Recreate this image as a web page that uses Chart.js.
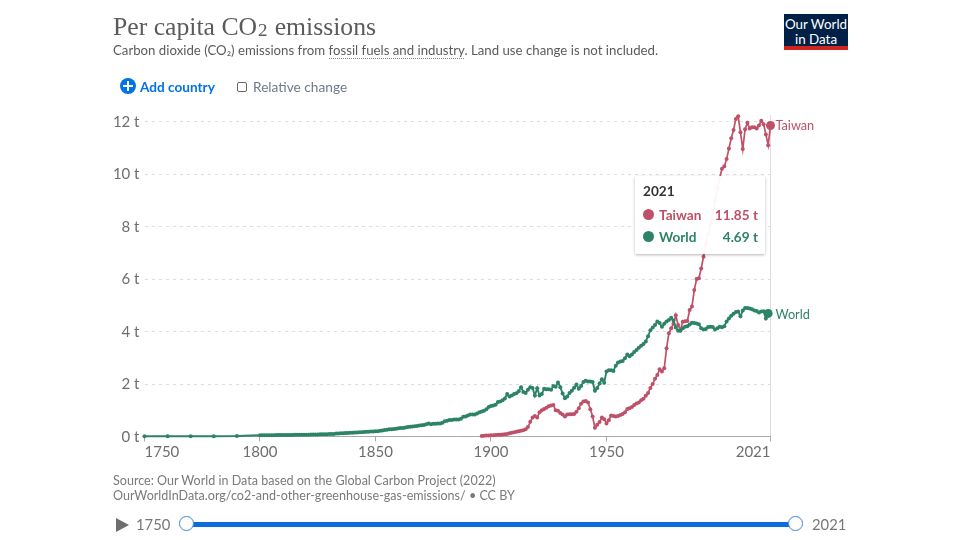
<!DOCTYPE html>
<html><head><meta charset="utf-8">
<script src="https://cdn.jsdelivr.net/npm/chart.js@4/dist/chart.umd.min.js"></script>
<style>
html,body{margin:0;padding:0;background:#fff;width:960px;height:540px;overflow:hidden;font-family:Lato,sans-serif}
#wrap{position:relative;width:960px;height:540px}
canvas{position:absolute;left:0;top:0}
.t{position:absolute;white-space:nowrap}
#title{left:113px;top:11px;font:25.7px/32px "Liberation Serif",serif;color:#5b5b5b}
#title span{font-size:1.25em;line-height:0;position:relative;top:-5px}
#sub{left:113px;top:41px;font:13.23px/18px Lato;color:#5b5b5b}
#sub span{border-bottom:1px dotted #888}
#logo{position:absolute;left:784px;top:14px;width:64px;height:36px;background:#002147;border-bottom:4px solid #ce261e;box-sizing:border-box;color:#fff;text-align:center;font:13.4px/14.5px Lato;padding-top:3px;white-space:nowrap}
#add{left:140px;top:78px;font:bold 13.6px/18px Lato;color:#0073e6}
#plus{position:absolute;left:120px;top:78px;width:16px;height:16px;border-radius:50%;background:#0073e6;color:#fff}
#plus i{position:absolute;background:#fff}
#chk{position:absolute;left:237px;top:82px;width:8px;height:8px;border:1.5px solid #666;border-radius:2px}
#rel{left:253px;top:78px;font:13.7px/18px Lato;color:#6e7b8e}
#tip{position:absolute;left:635px;top:176px;width:130px;height:78px;background:rgba(255,255,255,.95);box-shadow:0 1px 3px rgba(0,0,0,.3);border-radius:2px;font:13.6px/18px Lato}
#tip .t{font-weight:bold}
#tip b.d{position:absolute;width:11px;height:11px;border-radius:50%}
#src{left:113px;top:474px;font:12.55px/14.5px Lato;color:#7a7a7a}
#play{position:absolute;left:116px;top:518px;width:0;height:0;border-left:13px solid #6e6e6e;border-top:7px solid transparent;border-bottom:7px solid transparent}
.yr{font:14.8px/18px Lato;color:#777}
#track{position:absolute;left:186px;top:522px;width:610px;height:5px;background:#0a6fdc}
.h{position:absolute;top:516px;width:13px;height:13px;border:1.5px solid #4a90d9;border-radius:50%;background:#fff;box-shadow:0 0 1px rgba(0,0,0,.2)}
</style></head><body>
<div id="wrap">
<canvas id="c" width="960" height="540"></canvas>
<div class="t" id="title">Per capita CO<span>₂</span> emissions</div>
<div class="t" id="sub">Carbon dioxide (CO₂) emissions from <span>fossil fuels and industry</span>. Land use change is not included.</div>
<div id="logo">Our World<br>in Data</div>
<div id="plus"><i style="left:3px;top:7px;width:10px;height:2px"></i><i style="left:7px;top:3px;width:2px;height:10px"></i></div>
<div class="t" id="add">Add country</div>
<div id="chk"></div>
<div class="t" id="rel">Relative change</div>
<div id="tip">
 <div class="t" id="tipYear" style="left:8px;top:6px;color:#333"></div>
 <b class="d" style="left:8px;top:33px;background:#be5168"></b>
 <div class="t" id="tipA" style="left:24px;top:30px;color:#be5168"></div>
 <div class="t" id="tipAV" style="right:7px;top:30px;color:#be5168"></div>
 <b class="d" style="left:8px;top:55px;background:#2c8465"></b>
 <div class="t" id="tipB" style="left:24px;top:52px;color:#2c8465"></div>
 <div class="t" id="tipBV" style="right:7px;top:52px;color:#2c8465"></div>
</div>
<div class="t" id="src">Source: Our World in Data based on the Global Carbon Project (2022)<br>OurWorldInData.org/co2-and-other-greenhouse-gas-emissions/ • CC BY</div>
<div id="play"></div>
<div class="t yr" style="left:136px;top:515px">1750</div>
<div id="track"></div>
<div class="h" style="left:179px"></div>
<div class="h" style="left:788px"></div>
<div class="t yr" style="left:812px;top:515px">2021</div>
</div>
<script>
const xTicks = [1750, 1800, 1850, 1900, 1950, 2021];
const yTicks = [0, 2, 4, 6, 8, 10, 12];
const seriesNames = ["World", "Taiwan"];
const worldSparseYears = [1750, 1760, 1770, 1780, 1790];
const worldSparseValues = [0.01, 0.01, 0.01, 0.01, 0.02];
const worldAnnualStart = 1800;
const worldAnnualValues = [
.05,.05,.05,.05,.05,.05,.05,.06,.06,.06,
.06,.06,.06,.06,.06,.07,.07,.07,.07,.07,
.07,.07,.08,.08,.08,.08,.09,.09,.09,.09,
.10,.10,.10,.11,.11,.12,.12,.13,.13,.14,
.14,.15,.15,.16,.16,.17,.18,.18,.19,.19,
.20,.20,.22,.23,.25,.26,.28,.28,.29,.30,
.31,.32,.32,.34,.36,.37,.38,.39,.40,.42,
.43,.44,.47,.50,.47,.49,.49,.50,.50,.52,
.58,.60,.63,.63,.65,.65,.65,.68,.75,.76,
.80,.84,.84,.84,.88,.92,.95,.98,1.04,1.12,
1.16,1.18,1.21,1.31,1.33,1.38,1.45,1.62,1.52,1.56,
1.62,1.65,1.72,1.88,1.70,1.66,1.78,1.88,1.85,1.56,
1.84,1.56,1.62,1.82,1.80,1.80,1.78,1.92,1.90,2.06,
1.88,1.64,1.46,1.52,1.66,1.74,1.86,1.98,1.82,1.92,
2.08,2.12,2.10,2.10,2.08,1.74,1.85,2.02,2.18,2.05,
2.48,2.52,2.52,2.50,2.70,2.82,2.86,2.88,2.98,3.12,
3.06,3.12,3.22,3.30,3.38,3.46,3.52,3.62,3.82,4.05,
4.15,4.25,4.38,4.32,4.18,4.30,4.38,4.44,4.52,4.42,
4.15,4.03,4.03,4.12,4.18,4.20,4.27,4.33,4.32,4.31,
4.28,4.12,4.08,4.10,4.17,4.18,4.17,4.08,4.12,4.18,
4.16,4.20,4.38,4.50,4.60,4.68,4.74,4.76,4.58,4.80,
4.90,4.90,4.88,4.85,4.80,4.78,4.72,4.76,4.77,4.50,
4.69];
const taiwanStart = 1896;
const taiwanValues = [
.02,.03,.04,.04,
.05,.05,.06,.07,.07,.08,.09,.10,.12,.14,
.16,.18,.20,.22,.24,.28,.36,.56,.72,.78,
.72,.92,1.00,1.05,1.10,1.15,1.18,1.20,1.00,.98,
.90,.84,.76,.84,.85,.85,.86,.94,1.08,1.25,
1.33,1.35,1.30,1.04,.76,.33,.45,.55,.72,.66,
.50,.62,.80,.78,.76,.78,.82,.86,.92,1.05,
1.08,1.12,1.20,1.26,1.30,1.38,1.44,1.55,1.66,1.85,
2.00,2.20,2.34,2.56,2.48,2.60,3.36,3.93,4.12,4.30,
4.62,4.25,4.05,4.37,4.39,4.40,4.82,4.95,5.58,6.00,
6.03,6.40,6.85,7.35,7.70,8.10,8.50,9.00,9.45,9.85,
10.20,10.30,10.57,10.97,11.36,11.68,12.10,12.20,11.59,10.95,
11.71,11.95,11.74,11.78,11.78,11.74,11.85,12.03,11.90,11.51,
11.10,11.85];
const tipYear = 2021, tipTaiwan = "11.85 t", tipWorld = "4.69 t";

document.getElementById('tipYear').textContent = tipYear;
document.getElementById('tipA').textContent = seriesNames[1];
document.getElementById('tipAV').textContent = tipTaiwan;
document.getElementById('tipB').textContent = seriesNames[0];
document.getElementById('tipBV').textContent = tipWorld;

const GREEN = '#2c8465', PINK = '#be5168';
const worldPts = worldSparseYears.map((x, i) => ({x, y: worldSparseValues[i]}))
  .concat(worldAnnualValues.map((y, i) => ({x: worldAnnualStart + i, y})));
const taiwanPts = taiwanValues.map((y, i) => ({x: taiwanStart + i, y}));
const radius = n => ctx => ctx.dataIndex === n - 1 ? 4.5 : 2;

const edgeLabels = {
  id: 'edgeLabels',
  beforeDraw(chart) {
    const items = chart.scales.x.getLabelItems();
    const a = items[0], b = items[items.length - 1];
    a.options.textAlign = 'left';
    b.options.textAlign = 'right';
    chart.scales.y.getLabelItems().forEach(it => { it.options.translation[1] += 0.5; });
  },
  afterDatasetsDraw(chart) {
    const {ctx, scales: {x, y}} = chart;
    ctx.save();
    ctx.font = '12.7px Lato';
    ctx.textBaseline = 'middle';
    ctx.textAlign = 'left';
    ctx.fillStyle = PINK;
    ctx.fillText(seriesNames[1], x.getPixelForValue(2021) + 5, y.getPixelForValue(taiwanValues[taiwanValues.length - 1]));
    ctx.fillStyle = GREEN;
    ctx.fillText(seriesNames[0], x.getPixelForValue(2021) + 5, y.getPixelForValue(worldAnnualValues[worldAnnualValues.length - 1]) + 1);
    ctx.restore();
  }
};

new Chart(document.getElementById('c'), {
  type: 'line',
  plugins: [edgeLabels],
  data: {datasets: [
    {label: seriesNames[0], data: worldPts, borderColor: GREEN, backgroundColor: GREEN, borderWidth: 1.9,
     pointRadius: radius(worldPts.length), pointBorderWidth: 0, tension: 0, clip: false},
    {label: seriesNames[1], data: taiwanPts, borderColor: PINK, backgroundColor: PINK, borderWidth: 1.7,
     pointRadius: radius(taiwanPts.length), pointBorderWidth: 0, tension: 0, clip: false}
  ]},
  options: {
    responsive: false, animation: false, events: [],
    layout: {padding: {left: 84.5, right: 189.5, top: 115, bottom: 73.5}},
    plugins: {legend: {display: false}, tooltip: {enabled: false}},
    scales: {
      x: {
        type: 'linear', min: 1750, max: 2021,
        afterBuildTicks(s) { s.ticks = xTicks.map(value => ({value})); },
        afterFit(s) { s.height = 30; },
        border: {display: true, color: '#a8a8a8', width: 1},
        grid: {display: true, drawTicks: true, tickLength: 5,
          color: c => c.tick && c.tick.value === 2021 ? '#dedede' : 'transparent',
          tickColor: '#a8a8a8'},
        ticks: {autoSkip: false, maxRotation: 0, minRotation: 0, padding: 2, color: '#6e6e6e',
          font: {family: 'Lato', size: 15}, callback: v => String(v)}
      },
      y: {
        min: 0, max: 12.25,
        afterBuildTicks(s) { s.ticks = yTicks.map(value => ({value})); },
        afterFit(s) { s.width = 60; },
        border: {display: false, dash: [3, 4]},
        grid: {drawTicks: false, color: c => c.tick && c.tick.value === 0 ? 'transparent' : '#dddddd'},
        ticks: {padding: 5, color: '#6e6e6e', font: {family: 'Lato', size: 15}, callback: v => v + ' t'}
      }
    }
  }
});
</script>
</body></html>
